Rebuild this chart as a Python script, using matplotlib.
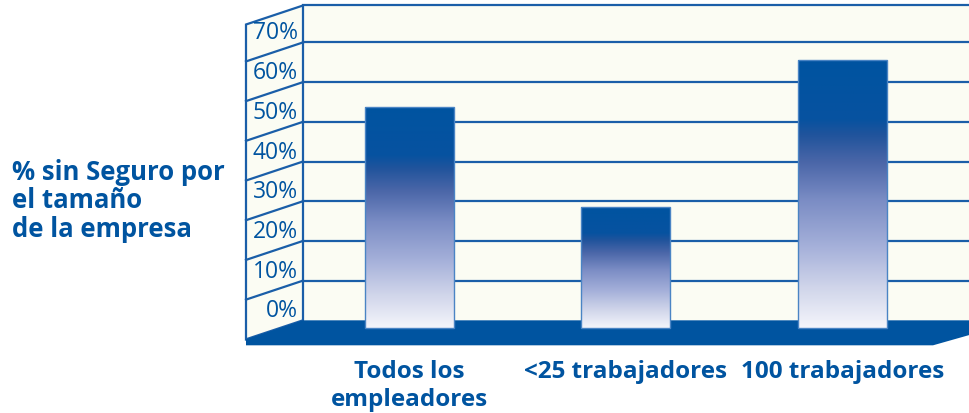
import numpy as np
import matplotlib.pyplot as plt
from matplotlib.colors import LinearSegmentedColormap
from matplotlib.patches import Polygon

plt.rcParams["font.family"] = ["Open Sans", "DejaVu Sans"]

# data
categories = ["Todos los\nempleadores", "<25 trabajadores", "100 trabajadores"]
values = [55.7, 30.6, 67.5]
ticks = [0, 10, 20, 30, 40, 50, 60, 70]
tick_labels = ["0%", "10%", "20%", "30%", "40%", "50%", "60%", "70%"]
ylabel = "% sin Seguro por\nel tamaño\nde la empresa"

blue = "#0054a0"
line_blue = "#1a5ea8"
cream = "#fbfcf3"

W, H = 970, 414
fig = plt.figure(figsize=(W / 100, H / 100), dpi=100)
ax = fig.add_axes([0, 0, 1, 1])
xmin, xmax = -1.8905, 2.5898
ymin, ymax = -21.33, 82.95
ux = (xmax - xmin) / W  # data units per pixel
uy = (ymax - ymin) / H

# pseudo 3d geometry (back wall sits slightly behind the bars)
base = 8 * uy
wall_left = -0.491
wall_top = base + 79.3
dxf, dyf = -57 * ux, -19 * uy
thick = 6 * uy
right_back = xmax + 30 * ux
right_front = 2.419

# back wall
ax.add_patch(Polygon([(wall_left, base), (right_back, base), (right_back, wall_top),
                      (wall_left, wall_top)], closed=True, fc=cream, ec="none", zorder=1))
# left wall
ax.add_patch(Polygon([(wall_left, base), (wall_left, wall_top),
                      (wall_left + dxf, wall_top + dyf), (wall_left + dxf, base + dyf)],
                     closed=True, fc=cream, ec=line_blue, lw=1.6, zorder=2))
ax.plot([wall_left, right_back], [wall_top, wall_top], color=line_blue, lw=1.6, zorder=2)

for v, lab in zip(ticks, tick_labels):
    y = base + v
    if v > 0:
        ax.plot([wall_left, right_back], [y, y], color=line_blue, lw=1.6, zorder=2)
        ax.plot([wall_left + dxf, wall_left], [y + dyf, y], color=line_blue, lw=1.6, zorder=2)
    ax.text(wall_left - 5 * ux, y + 10 * uy, lab, ha="right", va="center",
            fontsize=16.5, color=blue, zorder=3)

# floor
ax.add_patch(Polygon([(wall_left, base), (right_back, base), (right_back, base - thick),
                      (right_front, base + dyf - thick), (wall_left + dxf, base + dyf - thick),
                      (wall_left + dxf, base + dyf)],
                     closed=True, fc=blue, ec="none", zorder=3))

# bars with gradient fill
cmap = LinearSegmentedColormap.from_list(
    "bar", [(0, "#f4f5fb"), (0.15, "#d0d5ea"), (0.3, "#a6b1da"), (0.48, "#7a8cc4"),
            (0.62, "#4a66a8"), (0.72, "#21549c"), (0.78, "#0752a0"), (1, blue)])
grad = np.linspace(0, 1, 256).reshape(-1, 1)
x = np.arange(len(categories))
width = 0.41
bars = ax.bar(x, values, width, color="none", edgecolor="#4a84c4", lw=1.0, zorder=5)
for rect in bars:
    im = ax.imshow(grad, cmap=cmap, origin="lower", aspect="auto", zorder=4,
                   extent=[rect.get_x(), rect.get_x() + rect.get_width(), 0, rect.get_height()])
    im.set_clip_path(rect)

# category labels
for xi, cat in zip(x, categories):
    ax.text(xi, -7.8, cat, ha="center", va="top", fontsize=17.5, fontweight="bold",
            color=blue, linespacing=1.22)

fig.text(12 / W, 1 - 159 / H, ylabel, ha="left", va="top", fontsize=18.5,
         fontweight="bold", color=blue, linespacing=1.07)

ax.set_xlim(xmin, xmax)
ax.set_ylim(ymin, ymax)
ax.axis("off")
fig.savefig("out.png", dpi=100, facecolor="white")
